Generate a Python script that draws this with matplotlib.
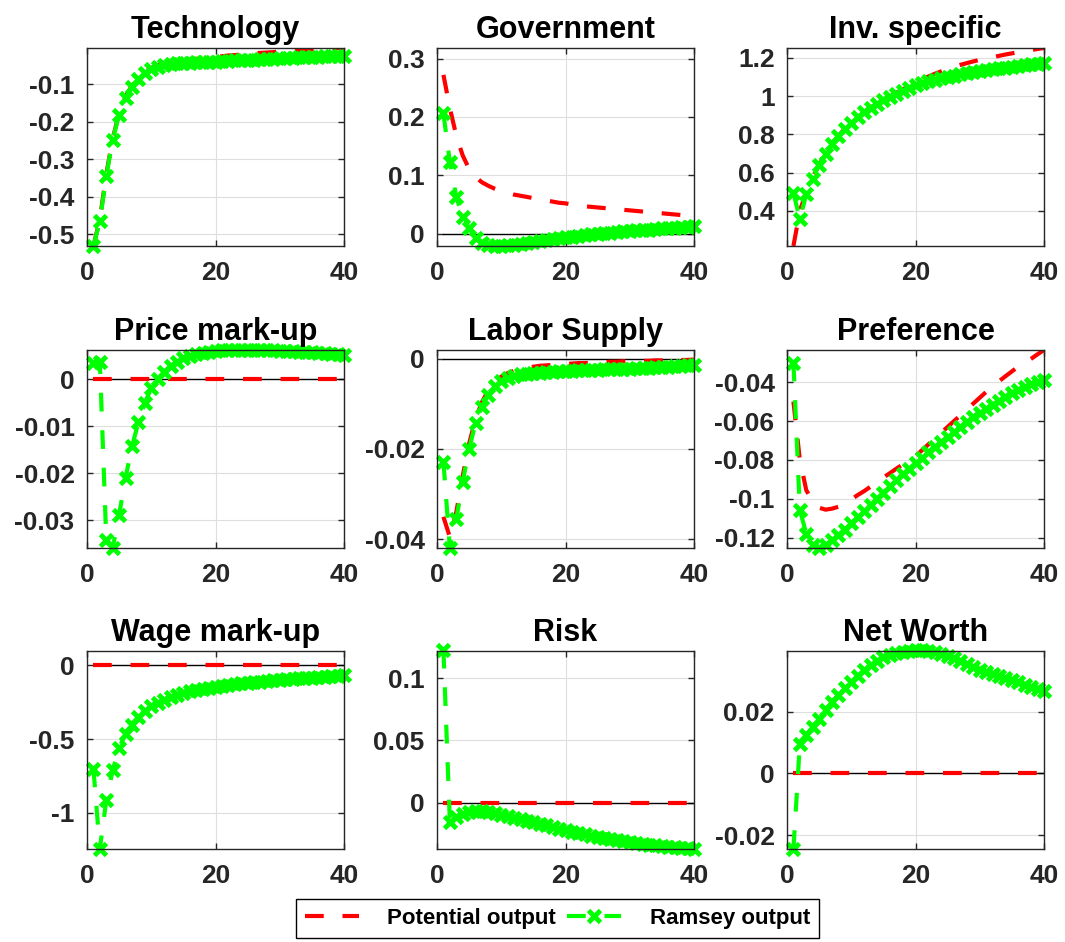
import numpy as np
import matplotlib
matplotlib.use("Agg")
import matplotlib.pyplot as plt
from matplotlib.ticker import FormatStrFormatter

plt.rcParams['font.family'] = ['Liberation Sans', 'DejaVu Sans']
plt.rcParams['font.weight'] = 'bold'
plt.rcParams['axes.unicode_minus'] = False

periods = np.arange(1, 41)

titles = ['Technology', 'Government', 'Inv. specific',
          'Price mark-up', 'Labor Supply', 'Preference',
          'Wage mark-up', 'Risk', 'Net Worth']

tech_potential = [-0.531, -0.46, -0.34, -0.245, -0.178, -0.133, -0.104, -0.083, -0.068, -0.057,
                  -0.050, -0.046, -0.042, -0.039, -0.037, -0.035, -0.033, -0.031, -0.029, -0.028,
                  -0.026, -0.024, -0.023, -0.021, -0.020, -0.018, -0.017, -0.016, -0.015, -0.013,
                  -0.012, -0.011, -0.010, -0.009, -0.008, -0.007, -0.006, -0.005, -0.0045, -0.004]
tech_ramsey = [-0.531, -0.465, -0.345, -0.248, -0.181, -0.137, -0.108, -0.087, -0.071, -0.060,
               -0.054, -0.050, -0.047, -0.045, -0.044, -0.043, -0.042, -0.041, -0.040, -0.040,
               -0.039, -0.038, -0.037, -0.037, -0.036, -0.035, -0.034, -0.033, -0.032, -0.031,
               -0.031, -0.030, -0.029, -0.029, -0.028, -0.027, -0.026, -0.026, -0.025, -0.024]

gov_potential = [0.272, 0.215, 0.168, 0.134, 0.111, 0.097, 0.088, 0.082, 0.077, 0.073,
                 0.070, 0.067, 0.065, 0.063, 0.061, 0.059, 0.057, 0.055, 0.053, 0.052,
                 0.050, 0.049, 0.047, 0.046, 0.045, 0.044, 0.043, 0.042, 0.041, 0.040,
                 0.039, 0.038, 0.037, 0.036, 0.035, 0.034, 0.033, 0.032, 0.031, 0.031]
gov_ramsey = [0.206, 0.123, 0.063, 0.029, 0.009, -0.007, -0.016, -0.020, -0.021, -0.021,
              -0.020, -0.019, -0.018, -0.016, -0.014, -0.012, -0.011, -0.009, -0.008, -0.006,
              -0.005, -0.004, -0.002, -0.001, 0.000, 0.001, 0.002, 0.003, 0.004, 0.005,
              0.006, 0.007, 0.007, 0.008, 0.009, 0.010, 0.010, 0.011, 0.012, 0.013]

inv_potential = [0.217, 0.40, 0.50, 0.575, 0.645, 0.70, 0.75, 0.793, 0.83, 0.862,
                 0.89, 0.916, 0.94, 0.962, 0.982, 1.0, 1.018, 1.035, 1.052, 1.07,
                 1.087, 1.103, 1.117, 1.13, 1.143, 1.154, 1.164, 1.173, 1.182, 1.19,
                 1.197, 1.204, 1.211, 1.218, 1.224, 1.23, 1.236, 1.241, 1.247, 1.252]
inv_ramsey = [0.496, 0.357, 0.487, 0.569, 0.643, 0.696, 0.748, 0.791, 0.826, 0.861,
              0.889, 0.915, 0.938, 0.96, 0.98, 0.998, 1.014, 1.029, 1.043, 1.056,
              1.067, 1.077, 1.086, 1.094, 1.101, 1.108, 1.114, 1.12, 1.126, 1.131,
              1.136, 1.141, 1.146, 1.15, 1.154, 1.158, 1.162, 1.166, 1.17, 1.174]

price_potential = [0.0] * 40
price_ramsey = [0.0035, 0.0037, -0.0341, -0.0359, -0.0288, -0.021, -0.0143, -0.0092, -0.0051, -0.0019,
                0.0000, 0.0016, 0.0028, 0.0037, 0.0044, 0.0049, 0.0053, 0.0056, 0.0058, 0.0060,
                0.0061, 0.0061, 0.0062, 0.0062, 0.0062, 0.0062, 0.0062, 0.0061, 0.0061, 0.0060,
                0.0060, 0.0059, 0.0058, 0.0058, 0.0057, 0.0056, 0.0055, 0.0054, 0.0053, 0.0052]

labor_potential = [-0.035, -0.0395, -0.034, -0.026, -0.0188, -0.0134, -0.0096, -0.0070, -0.0052, -0.0040,
                   -0.0032, -0.0027, -0.0023, -0.0020, -0.0018, -0.0016, -0.0015, -0.0014, -0.0013, -0.0012,
                   -0.0011, -0.0010, -0.0010, -0.0009, -0.0008, -0.0008, -0.0007, -0.0007, -0.0006, -0.0006,
                   -0.0005, -0.0005, -0.0005, -0.0004, -0.0004, -0.0004, -0.0003, -0.0003, -0.0003, -0.0002]
labor_ramsey = [-0.0228, -0.0418, -0.0355, -0.0273, -0.0199, -0.0143, -0.0106, -0.0080, -0.0061, -0.0050,
                -0.0043, -0.0038, -0.0035, -0.0033, -0.0032, -0.0031, -0.0030, -0.0029, -0.0028, -0.0028,
                -0.0027, -0.0026, -0.0026, -0.0025, -0.0025, -0.0024, -0.0023, -0.0023, -0.0022, -0.0022,
                -0.0021, -0.0020, -0.0020, -0.0019, -0.0018, -0.0018, -0.0017, -0.0016, -0.0015, -0.0014]

pref_potential = [-0.050, -0.080, -0.0955, -0.1014, -0.1045, -0.1055, -0.105, -0.104, -0.1022, -0.1003,
                  -0.098, -0.096, -0.0937, -0.0914, -0.089, -0.0868, -0.0845, -0.0823, -0.080, -0.078,
                  -0.075, -0.072, -0.069, -0.066, -0.063, -0.060, -0.057, -0.054, -0.051, -0.048,
                  -0.045, -0.042, -0.0395, -0.037, -0.0345, -0.032, -0.030, -0.028, -0.0257, -0.0235]
pref_ramsey = [-0.030, -0.1057, -0.1178, -0.1238, -0.1252, -0.1238, -0.121, -0.1186, -0.116, -0.1126,
               -0.1095, -0.1063, -0.103, -0.0998, -0.0967, -0.0935, -0.0905, -0.0874, -0.0845, -0.0815,
               -0.0788, -0.076, -0.0733, -0.0707, -0.068, -0.0655, -0.063, -0.0605, -0.058, -0.0557,
               -0.0536, -0.0515, -0.0495, -0.0476, -0.0458, -0.0441, -0.0426, -0.0412, -0.0400, -0.0390]

wage_potential = [0.0] * 40
wage_ramsey = [-0.699, -1.242, -0.914, -0.710, -0.563, -0.462, -0.405, -0.348, -0.310, -0.276,
               -0.252, -0.232, -0.215, -0.200, -0.188, -0.177, -0.168, -0.160, -0.153, -0.146,
               -0.140, -0.134, -0.128, -0.123, -0.118, -0.114, -0.110, -0.106, -0.102, -0.098,
               -0.095, -0.092, -0.089, -0.086, -0.083, -0.080, -0.077, -0.074, -0.071, -0.068]

risk_potential = [0.0] * 40
risk_ramsey = [0.123, -0.0156, -0.0116, -0.0089, -0.0075, -0.0070, -0.0070, -0.0078, -0.0088, -0.0100,
               -0.0111, -0.0122, -0.0134, -0.0145, -0.0156, -0.0169, -0.0183, -0.0196, -0.0210, -0.0223,
               -0.0234, -0.0245, -0.0256, -0.0266, -0.0277, -0.0285, -0.0293, -0.0301, -0.0309, -0.0317,
               -0.0324, -0.0331, -0.0338, -0.0345, -0.0352, -0.0356, -0.0360, -0.0364, -0.0368, -0.0372]

net_potential = [0.0] * 40
net_ramsey = [-0.0245, 0.0096, 0.0124, 0.0151, 0.0178, 0.0205, 0.0232, 0.0254, 0.0276, 0.0297,
              0.0317, 0.0335, 0.0351, 0.0364, 0.0376, 0.0385, 0.0391, 0.0395, 0.0398, 0.0400,
              0.0400, 0.0398, 0.0394, 0.0388, 0.0381, 0.0373, 0.0364, 0.0355, 0.0346, 0.0337,
              0.0330, 0.0323, 0.0316, 0.0309, 0.0302, 0.0295, 0.0288, 0.0281, 0.0274, 0.0268]

potential = [tech_potential, gov_potential, inv_potential, price_potential, labor_potential,
             pref_potential, wage_potential, risk_potential, net_potential]
ramsey = [tech_ramsey, gov_ramsey, inv_ramsey, price_ramsey, labor_ramsey,
          pref_ramsey, wage_ramsey, risk_ramsey, net_ramsey]

ylims = [(-0.531, -0.004), (-0.021, 0.318), (0.217, 1.252),
         (-0.0359, 0.0062), (-0.0419, 0.0019), (-0.1252, -0.0235),
         (-1.244, 0.097), (-0.0374, 0.122), (-0.0245, 0.0397)]
yticks = [[-0.5, -0.4, -0.3, -0.2, -0.1], [0, 0.1, 0.2, 0.3], [0.4, 0.6, 0.8, 1, 1.2],
          [-0.03, -0.02, -0.01, 0], [-0.04, -0.02, 0], [-0.12, -0.1, -0.08, -0.06, -0.04],
          [-1, -0.5, 0], [0, 0.05, 0.1], [-0.02, 0, 0.02]]
show_zero = [False, True, False, True, True, False, True, True, True]

fig = plt.figure(figsize=(10.65, 9.42), dpi=100)
lefts = [87 / 1065, 437 / 1065, 787 / 1065]
bottoms = [1 - 246 / 942, 1 - 548 / 942, 1 - 849 / 942]
w, h = 257 / 1065, 198 / 942
frame = (0.15, 0.15, 0.15)

for i in range(9):
    ax = fig.add_axes([lefts[i % 3], bottoms[i // 3], w, h])
    ax.grid(True, color=(0.87, 0.87, 0.87), lw=0.8)
    ax.set_axisbelow(True)
    if show_zero[i]:
        ax.plot(periods, np.zeros(40), color='k', lw=1)
    lp, = ax.plot(periods, potential[i], color='red', lw=3, dashes=(4.5, 4.5))
    lr, = ax.plot(periods, ramsey[i], color=(0, 1, 0), lw=3, dashes=(4.5, 4.5),
                  marker='x', ms=8, mew=3.5, clip_on=False)
    ax.set_xlim(0, 40)
    ax.set_ylim(*ylims[i])
    ax.set_xticks([0, 20, 40])
    ax.set_yticks(yticks[i])
    ax.yaxis.set_major_formatter(FormatStrFormatter('%g'))
    ax.tick_params(direction='in', length=4, width=1, colors=frame, labelsize=19,
                   top=True, right=True)
    ax.tick_params(axis='x', pad=11)
    ax.tick_params(axis='y', pad=9)
    for lab in ax.get_xticklabels() + ax.get_yticklabels():
        lab.set_fontweight('bold')
    for s in ax.spines.values():
        s.set_color(frame)
        s.set_linewidth(1)
    ax.set_title(titles[i], fontsize=22, fontweight='bold', pad=7)

leg = fig.legend([lp, lr], ['Potential output', 'Ramsey output'], loc='center',
                 bbox_to_anchor=(557.5 / 1065, 1 - 918.5 / 942), ncol=2,
                 prop={'size': 16, 'weight': 'bold'}, handlelength=2.4,
                 fancybox=False, edgecolor='k', framealpha=1,
                 columnspacing=0.5, handletextpad=1.3, borderpad=0.4,
                 borderaxespad=0.2)
leg.get_frame().set_linewidth(1)

fig.savefig('out.png', dpi=100)
